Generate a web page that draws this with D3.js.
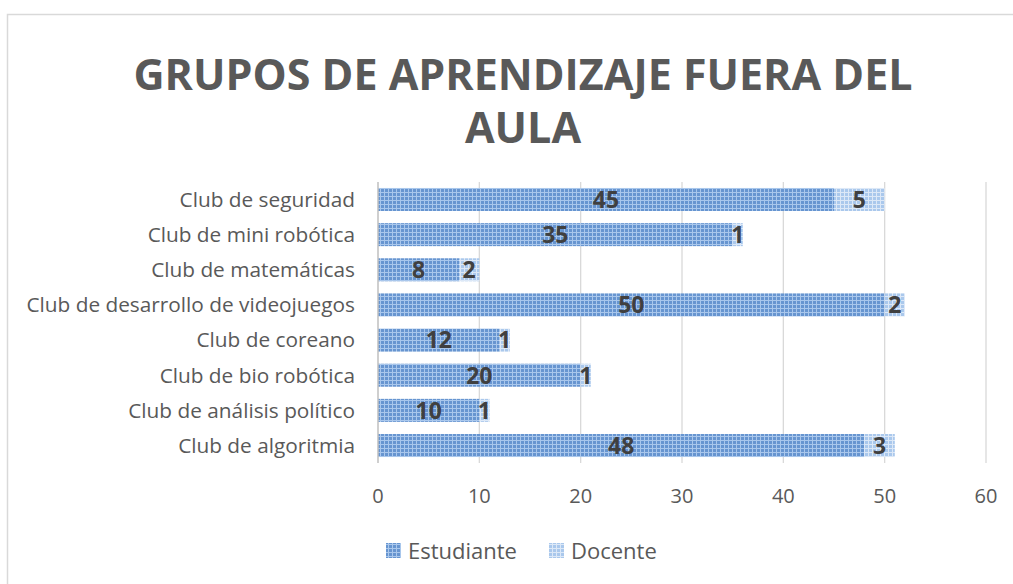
<!DOCTYPE html>
<html>
<head>
<meta charset="utf-8">
<script src="https://cdn.jsdelivr.net/npm/d3@7"></script>
<style>
  html, body { margin: 0; padding: 0; background: #fff; }
  svg text { font-family: "Open Sans", sans-serif; }
</style>
</head>
<body>
<svg id="chart" width="1013" height="584"></svg>
<script>
const categories = [
  "Club de seguridad",
  "Club de mini robótica",
  "Club de matemáticas",
  "Club de desarrollo de videojuegos",
  "Club de coreano",
  "Club de bio robótica",
  "Club de análisis político",
  "Club de algoritmia"
];
const estudiante = [45, 35, 8, 50, 12, 20, 10, 48];
const docente = [5, 1, 2, 2, 1, 1, 1, 3];
const seriesNames = ["Estudiante", "Docente"];
const xTicks = [0, 10, 20, 30, 40, 50, 60];

const svg = d3.select("#chart");

// chart border
svg.append("rect")
  .attr("x", 7.5).attr("y", 14.5)
  .attr("width", 1020).attr("height", 600)
  .attr("fill", "#fff")
  .attr("stroke", "#d9d9d9")
  .attr("stroke-width", 1.5);

// grid patterns for the bars
const defs = svg.append("defs");
function gridPattern(id, base, line) {
  const p = defs.append("pattern")
    .attr("id", id)
    .attr("patternUnits", "userSpaceOnUse")
    .attr("width", 4).attr("height", 4);
  p.append("rect").attr("width", 4).attr("height", 4).attr("fill", base);
  p.append("rect").attr("width", 4).attr("height", 1).attr("fill", line);
  p.append("rect").attr("width", 1).attr("height", 4).attr("fill", line);
}
gridPattern("pEst", "#6795d0", "#a9c7ec");
gridPattern("pDoc", "#aac8ec", "#dce8f7");
const fills = ["url(#pEst)", "url(#pDoc)"];

// title
const title = svg.append("text")
  .attr("text-anchor", "middle")
  .attr("fill", "#595959")
  .attr("font-size", 43)
  .attr("font-weight", 700);
title.append("tspan").attr("x", 523).attr("y", 90).text("GRUPOS DE APRENDIZAJE FUERA DEL");
title.append("tspan").attr("x", 523).attr("y", 143).text("AULA");

const x = d3.scaleLinear()
  .domain([0, 60])
  .range([378, 986]);

const y = d3.scaleBand()
  .domain(categories)
  .range([182, 463])
  .paddingInner(0.345)
  .paddingOuter(0.17);

// vertical gridlines
svg.append("g")
  .selectAll("line")
  .data(xTicks.slice(1))
  .join("line")
  .attr("x1", d => x(d)).attr("x2", d => x(d))
  .attr("y1", 182).attr("y2", 463)
  .attr("stroke", "#d9d9d9")
  .attr("stroke-width", 1.3);

// x tick labels
svg.append("g")
  .selectAll("text")
  .data(xTicks)
  .join("text")
  .attr("x", d => x(d))
  .attr("y", 496)
  .attr("dy", "0.35em")
  .attr("text-anchor", "middle")
  .attr("fill", "#595959")
  .attr("font-size", 20)
  .text(d => d);

// category labels
svg.append("g")
  .selectAll("text")
  .data(categories)
  .join("text")
  .attr("x", 355)
  .attr("y", d => y(d) + y.bandwidth() / 2)
  .attr("dy", "0.35em")
  .attr("text-anchor", "end")
  .attr("fill", "#595959")
  .attr("font-size", 20.8)
  .text(d => d);

// stacked bars
const rows = categories.map((c, i) => ({ cat: c, vals: [estudiante[i], docente[i]] }));
const segs = [];
rows.forEach(r => {
  let acc = 0;
  r.vals.forEach((v, k) => {
    segs.push({ cat: r.cat, k, x0: acc, x1: acc + v, v });
    acc += v;
  });
});

svg.append("g")
  .selectAll("rect")
  .data(segs)
  .join("rect")
  .attr("x", d => x(d.x0))
  .attr("y", d => y(d.cat))
  .attr("width", d => x(d.x1) - x(d.x0))
  .attr("height", y.bandwidth())
  .attr("fill", d => fills[d.k]);

svg.append("g")
  .selectAll("text")
  .data(segs)
  .join("text")
  .attr("x", d => (x(d.x0) + x(d.x1)) / 2)
  .attr("y", d => y(d.cat) + y.bandwidth() / 2)
  .attr("dy", "0.36em")
  .attr("text-anchor", "middle")
  .attr("fill", "#404040")
  .attr("font-size", 23)
  .attr("font-weight", 700)
  .text(d => d.v);

// axis line
svg.append("line")
  .attr("x1", x(0)).attr("x2", x(0))
  .attr("y1", 182).attr("y2", 463)
  .attr("stroke", "#bfbfbf")
  .attr("stroke-width", 1.5);

// legend
const legend = svg.append("g");
const lx = [386, 549];
seriesNames.forEach((n, i) => {
  legend.append("rect")
    .attr("x", lx[i]).attr("y", 543)
    .attr("width", 15).attr("height", 15)
    .attr("fill", fills[i]);
  legend.append("text")
    .attr("x", lx[i] + 22).attr("y", 551)
    .attr("dy", "0.35em")
    .attr("fill", "#595959")
    .attr("font-size", 22)
    .text(n);
});
</script>
</body>
</html>
